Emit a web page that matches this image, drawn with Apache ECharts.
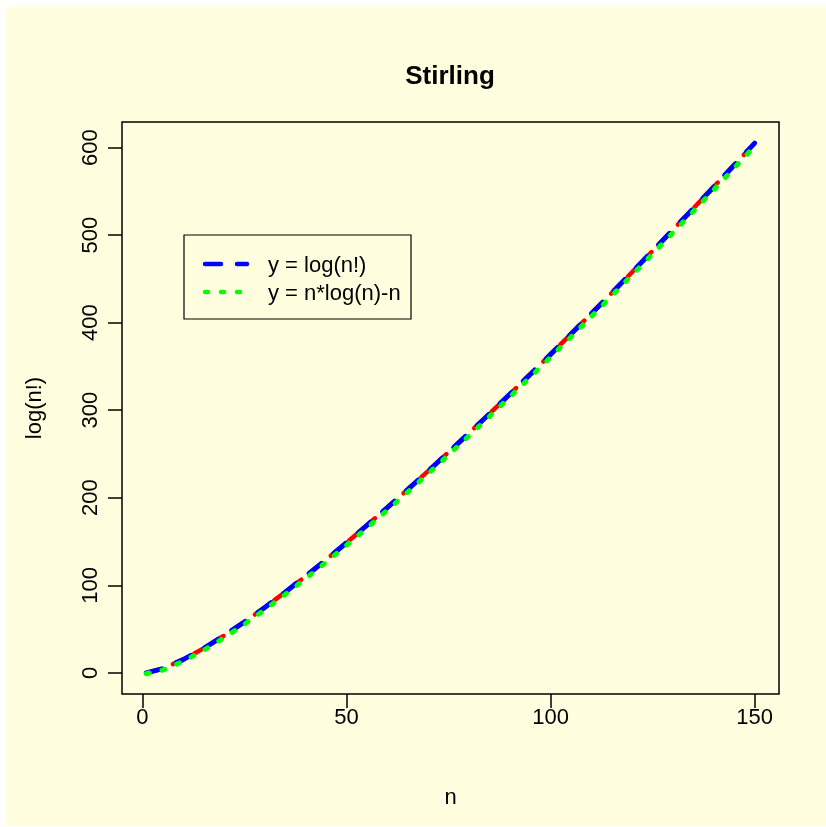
<!DOCTYPE html>
<html>
<head>
<meta charset="utf-8">
<title>Stirling</title>
<script src="https://cdn.jsdelivr.net/npm/echarts@6/dist/echarts.min.js"></script>
<style>
  html, body { margin: 0; padding: 0; background: #ffffff; }
  #chart { width: 826px; height: 827px; }
</style>
</head>
<body>
<div id="chart"></div>
<script>
// n values sampled along the curve
const nValues = [1, 5, 10, 15, 20, 25, 30, 35, 40, 45, 50, 55, 60, 65, 70, 75,
  80, 85, 90, 95, 100, 105, 110, 115, 120, 125, 130, 135, 140, 145, 150];

// y = log(n!)
const logFactorial = [0, 4.788, 15.104, 27.899, 42.336, 58.004, 74.658, 92.136,
  110.321, 129.124, 148.478, 168.327, 188.628, 209.343, 230.439, 251.890,
  273.673, 295.767, 318.153, 340.815, 363.739, 386.913, 410.323, 433.959,
  457.812, 481.873, 506.133, 530.584, 555.220, 580.034, 605.020];

// y = n*log(n) - n
const stirlingApprox = [-1, 3.047, 13.026, 25.621, 39.915, 55.472, 72.036, 89.437,
  107.555, 126.300, 145.601, 165.403, 185.661, 206.335, 227.395, 248.812,
  270.562, 292.625, 314.983, 337.618, 360.517, 383.666, 407.053, 430.667,
  454.499, 478.539, 502.779, 527.212, 551.830, 576.626, 601.595];

const xTicks = [0, 50, 100, 150];
const yTicks = [0, 100, 200, 300, 400, 500, 600];
const legendLabels = ['y = log(n!)', 'y = n*log(n)-n'];

const pairs = (xs, ys) => xs.map((x, i) => [x, ys[i]]);

const FONT = '"Liberation Sans", Arial, Helvetica, sans-serif';
const CREAM = '#FFFFE0';
const FS = 22;

const chart = echarts.init(document.getElementById('chart'), null, { renderer: 'canvas' });

const option = {
  animation: false,
  backgroundColor: CREAM,
  title: {
    text: 'Stirling',
    left: 445, top: 59,
    textAlign: 'center',
    textStyle: { fontFamily: FONT, fontSize: 26, fontWeight: 'bold', color: '#000' }
  },
  grid: {
    left: 122, top: 122, right: 47, bottom: 133,
    show: true, borderColor: '#000', borderWidth: 1.5, backgroundColor: 'transparent'
  },
  xAxis: {
    type: 'value',
    min: -4.96, max: 155.96,
    name: 'n', nameLocation: 'middle', nameGap: 93,
    nameTextStyle: { fontFamily: FONT, fontSize: FS, color: '#000' },
    splitLine: { show: false },
    axisLine: { show: false, onZero: false },
    axisTick: { show: true, inside: false, length: 14, customValues: xTicks,
      lineStyle: { color: '#000', width: 1.5 } },
    axisLabel: { customValues: xTicks, margin: 13, fontFamily: FONT, fontSize: FS, color: '#000' }
  },
  yAxis: {
    type: 'value',
    min: -24.2, max: 629.2,
    name: 'log(n!)', nameLocation: 'middle', nameGap: 76, nameRotate: 90,
    nameTextStyle: { fontFamily: FONT, fontSize: FS, color: '#000' },
    splitLine: { show: false },
    axisLine: { show: false, onZero: false },
    axisTick: { show: true, inside: false, length: 14, customValues: yTicks,
      lineStyle: { color: '#000', width: 1.5 } },
    axisLabel: { customValues: yTicks, rotate: 90, margin: 20, fontFamily: FONT, fontSize: FS, color: '#000' }
  },
  series: [
    {
      name: 'red',
      type: 'line', showSymbol: false, z: 2,
      data: pairs(nValues, logFactorial),
      lineStyle: { color: '#ff0000', width: 4.5, type: [10, 14], dashOffset: 20, cap: 'round' }
    },
    {
      name: legendLabels[0],
      type: 'line', showSymbol: false, z: 3,
      data: pairs(nValues, logFactorial),
      lineStyle: { color: '#0000ff', width: 5, type: [16, 16], cap: 'round' }
    },
    {
      name: legendLabels[1],
      type: 'line', showSymbol: false, z: 4,
      data: pairs(nValues, stirlingApprox),
      lineStyle: { color: '#00ff00', width: 5, type: [3, 13], cap: 'round' }
    }
  ],
  graphic: [
    // white margins around the cream panel
    { type: 'rect', shape: { x: 0, y: 0, width: 826, height: 7 }, style: { fill: '#ffffff' }, silent: true },
    { type: 'rect', shape: { x: 0, y: 0, width: 5, height: 827 }, style: { fill: '#ffffff' }, silent: true },
    { type: 'rect', shape: { x: 0, y: 826, width: 826, height: 1 }, style: { fill: '#ffffff' }, silent: true },
    // legend box
    { type: 'rect', shape: { x: 184, y: 235, width: 227, height: 84 },
      style: { fill: CREAM, stroke: '#000', lineWidth: 1.2 }, z: 10 },
    { type: 'line', shape: { x1: 205, y1: 264, x2: 247, y2: 264 },
      style: { stroke: '#0000ff', lineWidth: 4.5, lineDash: [16, 16], lineCap: 'round' }, z: 11 },
    { type: 'line', shape: { x1: 205, y1: 292, x2: 247, y2: 292 },
      style: { stroke: '#00ff00', lineWidth: 4.5, lineDash: [3, 13], lineCap: 'round' }, z: 11 },
    { type: 'text', x: 268, y: 266, z: 11,
      style: { text: legendLabels[0], font: FS + 'px ' + FONT, fill: '#000', verticalAlign: 'middle' } },
    { type: 'text', x: 268, y: 294, z: 11,
      style: { text: legendLabels[1], font: FS + 'px ' + FONT, fill: '#000', verticalAlign: 'middle' } }
  ]
};

chart.setOption(option);
</script>
</body>
</html>
